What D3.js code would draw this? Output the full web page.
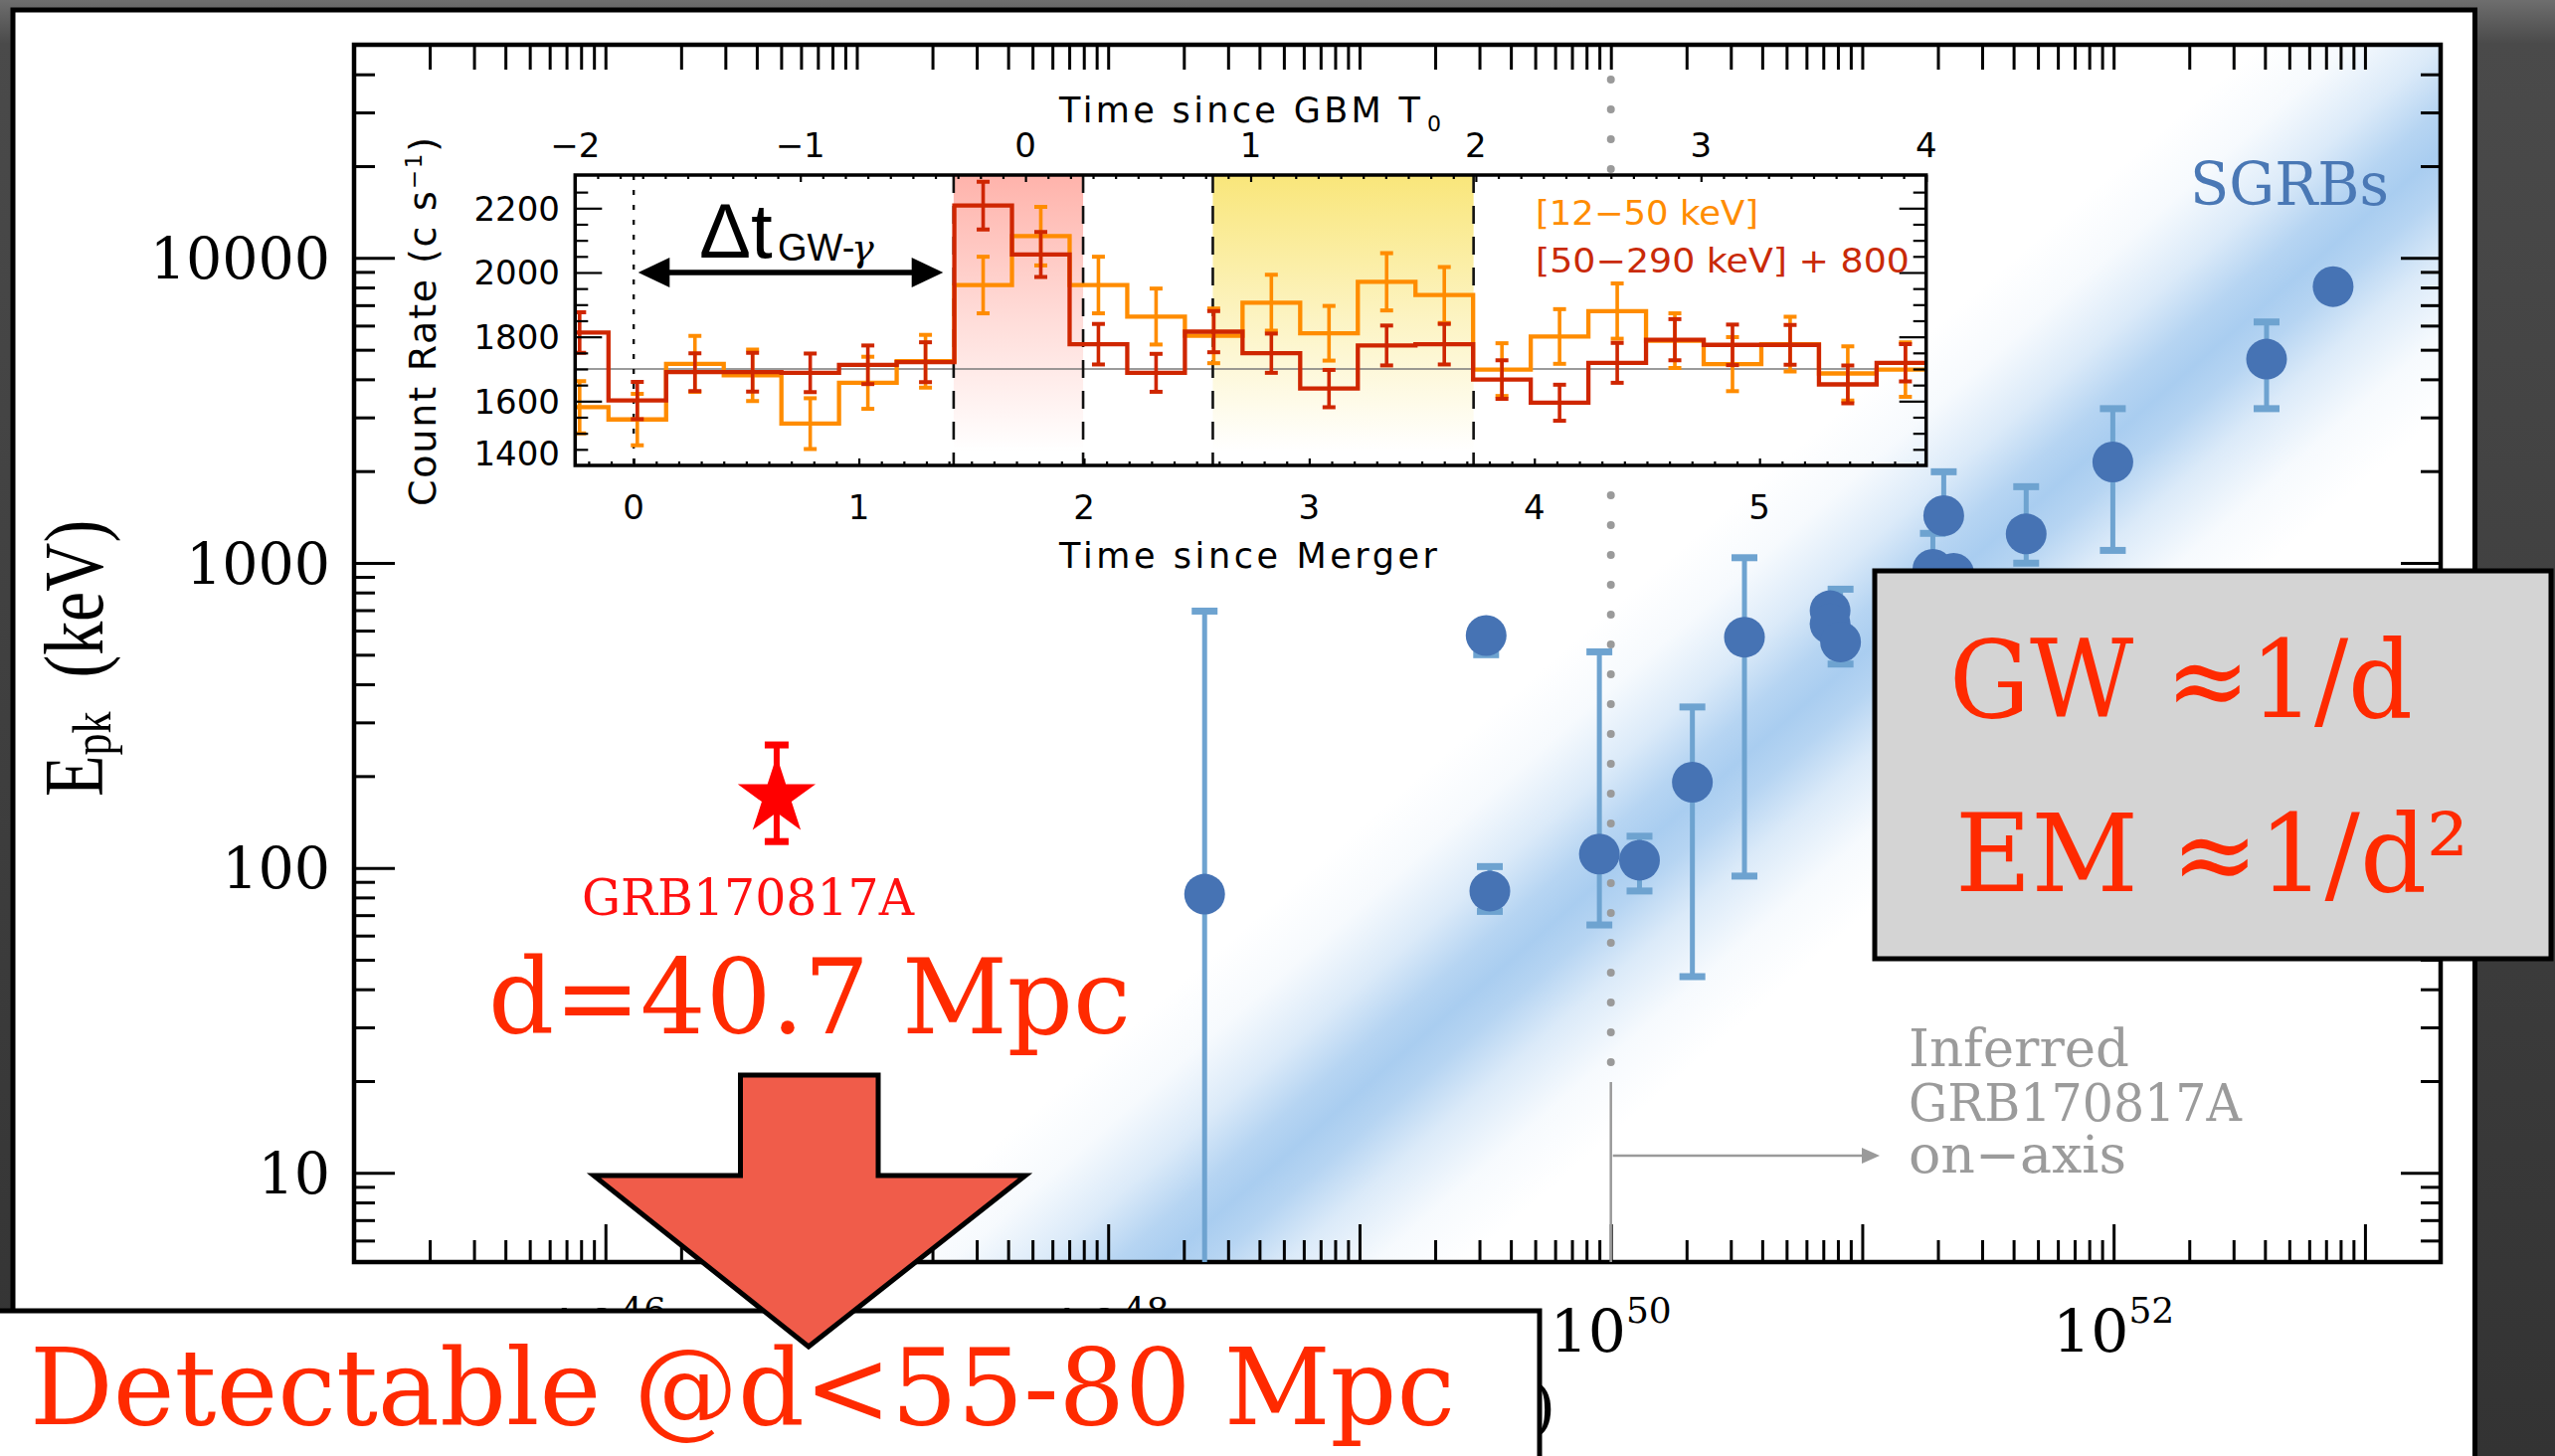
<!DOCTYPE html>
<html>
<head>
<meta charset="utf-8">
<script src="https://cdn.jsdelivr.net/npm/d3@7"></script>
<style>
  html, body { margin: 0; padding: 0; background: #363636; overflow: hidden; }
  svg { display: block; }
</style>
</head>
<body>
<script>
// ---- main panel: short GRB sample (Eiso in erg, Epk in keV) ----
const sgrbEiso  = [2.42e48, 3.19e49, 3.30e49, 9.0e49, 1.30e50, 2.11e50, 3.40e50, 7.45e50, 7.45e50, 8.2e50, 2.11e51, 1.91e51, 2.31e51, 4.49e51, 9.93e51, 4.06e52, 7.47e52]
const sgrbEpk   = [82, 578, 84, 111, 106, 191, 571, 697, 631, 551, 1429, 953, 925, 1245, 2143, 4657, 8054]
const sgrbEpkLo = [3, 500, 72, 65, 84, 44, 94, null, null, 466, null, null, null, 998, 1099, 3205, null]
const sgrbEpkHi = [695, null, 101, 511, 127, 337, 1040, null, null, 820, 1990, 1250, null, 1778, 3205, 6166, null]

// GRB170817A
const grbEiso = 4.8e46
const grbEpk = 171
const grbEpkLo = 122
const grbEpkHi = 253

// centre line of the shaded relation band (two anchor points)
const bandEiso = [3.15e48, 1.12e53]
const bandEpk = [8.1, 14750]

// ---- inset: GBM light curve, 0.256 s bins, time since GBM T0 ----
const binLeft = [-2.108, -1.852, -1.596, -1.34, -1.084, -0.828, -0.572, -0.316, -0.06, 0.196, 0.452, 0.708,
                 0.964, 1.22, 1.476, 1.732, 1.988, 2.244, 2.5, 2.756, 3.012, 3.268, 3.524, 3.78]
const binWidth = 0.256
const rateHard    = [1813, 1602, 1690, 1690, 1688, 1713, 1721, 2208, 2056, 1777, 1688, 1816, 1749, 1639, 1773, 1777, 1667, 1595, 1719, 1791, 1775, 1775, 1652, 1719]
const rateHardErr = [63, 58, 59, 60, 60, 60, 62, 74, 70, 63, 59, 64, 61, 58, 62, 63, 60, 56, 62, 64, 63, 62, 59, 58]
const rateSoft    = [1581, 1543, 1716, 1680, 1530, 1657, 1724, 1961, 2113, 1961, 1863, 1803, 1906, 1811, 1971, 1930, 1698, 1801, 1880, 1788, 1715, 1777, 1686, 1698]
const rateSoftErr = [81, 80, 87, 80, 79, 81, 82, 88, 91, 88, 87, 85, 87, 85, 89, 87, 82, 85, 86, 85, 84, 85, 84, 85]
const mergerOffset = 1.74
const pinkSpan = [-0.319, 0.256]
const yellowSpan = [0.832, 1.99]
const bkgLevel = 1700

const insetTopLabels = [-2, -1, 0, 1, 2, 3, 4]
const insetBottomLabels = [0, 1, 2, 3, 4, 5]
const insetYLabels = [1400, 1600, 1800, 2000, 2200]
const yLabels = [10, 100, 1000, 10000]
const xLabels = [46, 48, 50, 52]

const svg = d3.select('body').append('svg').attr('width', 2569).attr('height', 1464)
const defs = svg.append('defs')

function txt(parent, x, y, s, o = {}) {
  const t = parent.append('text').attr('x', x).attr('y', y).text(s)
    .attr('font-family', o.font || 'DejaVu Serif').attr('font-size', o.size || 40)
    .attr('fill', o.fill || '#000').attr('text-anchor', o.anchor || 'start')
  if (o.len) t.attr('textLength', o.len).attr('lengthAdjust', o.adjust || 'spacingAndGlyphs')
  return t
}

// ---- slide background + white panel ----
const bg = defs.append('linearGradient').attr('id', 'bgGrad').attr('x1', 0).attr('y1', 0).attr('x2', 0).attr('y2', 1)
bg.append('stop').attr('offset', 0).attr('stop-color', '#6e6e6e')
bg.append('stop').attr('offset', 0.03).attr('stop-color', '#4a4a4a')
bg.append('stop').attr('offset', 1).attr('stop-color', '#333')
svg.append('rect').attr('width', 2569).attr('height', 1464).attr('fill', 'url(#bgGrad)')
svg.append('rect').attr('x', 13).attr('y', 10).attr('width', 2475.5).attr('height', 1500)
  .attr('fill', '#fff').attr('stroke', '#000').attr('stroke-width', 5)

// ---- main scales ----
const x = d3.scaleLog().domain([1e45, 2e53]).range([356, 2454])
const y = d3.scaleLog().domain([5.1, 5e4]).range([1269, 45])
const [X0, X1] = x.range(), [Y1, Y0] = y.range()

defs.append('clipPath').attr('id', 'mainClip').append('rect')
  .attr('x', X0).attr('y', Y0).attr('width', X1 - X0).attr('height', Y1 - Y0)

// ---- blue band ----
const p0 = [x(bandEiso[0]), y(bandEpk[0])], p1 = [x(bandEiso[1]), y(bandEpk[1])]
const len = Math.hypot(p1[0] - p0[0], p1[1] - p0[1])
const ux = (p1[0] - p0[0]) / len, uy = (p1[1] - p0[1]) / len
const nx = -uy, ny = ux, hw = 200, ext = 900
const a = [p0[0] - ux * ext, p0[1] - uy * ext], b = [p1[0] + ux * ext, p1[1] + uy * ext]
const bandGrad = defs.append('linearGradient').attr('id', 'bandGrad').attr('gradientUnits', 'userSpaceOnUse')
  .attr('x1', p0[0] - nx * hw).attr('y1', p0[1] - ny * hw).attr('x2', p0[0] + nx * hw).attr('y2', p0[1] + ny * hw)
;[[0, 0], [0.15, 0.1], [0.3, 0.42], [0.42, 0.85], [0.5, 1], [0.58, 0.85], [0.7, 0.42], [0.85, 0.1], [1, 0]].forEach(([o, op]) =>
  bandGrad.append('stop').attr('offset', o).attr('stop-color', '#a9cdf0').attr('stop-opacity', op))
svg.append('g').attr('clip-path', 'url(#mainClip)').append('polygon')
  .attr('points', [[a[0] + nx * hw, a[1] + ny * hw], [b[0] + nx * hw, b[1] + ny * hw],
                   [b[0] - nx * hw, b[1] - ny * hw], [a[0] - nx * hw, a[1] - ny * hw]].join(' '))
  .attr('fill', 'url(#bandGrad)')

// ---- main axes ----
const isDecade = v => Math.abs(Math.log10(v) - Math.round(Math.log10(v))) < 1e-6
const xTicks = d3.range(45, 54).flatMap(e => d3.range(1, 10).map(k => k * 10 ** e)).filter(v => v >= 1e45 && v <= 2e53)
const yTicks = d3.range(0, 5).flatMap(e => d3.range(1, 10).map(k => k * 10 ** e)).filter(v => v > 5.1 && v < 4.99e4)

function ticks(axis, scale, vals, pos, attr, lenFn) {
  const g = svg.append('g').attr('transform', pos)
    .call(axis(scale).tickValues(vals).tickFormat('').tickSizeOuter(0))
  g.select('.domain').remove()
  g.selectAll('.tick line').attr('stroke', '#000').attr('stroke-width', 3).attr(attr, lenFn)
  return g
}
ticks(d3.axisBottom, x, xTicks, `translate(0,${Y1})`, 'y2', d => isDecade(d) ? -38 : -22)
ticks(d3.axisTop, x, xTicks, `translate(0,${Y0})`, 'y2', d => 25)
ticks(d3.axisLeft, y, yTicks, `translate(${X0},0)`, 'x2', d => isDecade(d) ? 41 : 21)
ticks(d3.axisRight, y, yTicks, `translate(${X1},0)`, 'x2', d => isDecade(d) ? -40 : -20)
svg.append('rect').attr('x', X0).attr('y', Y0).attr('width', X1 - X0).attr('height', Y1 - Y0)
  .attr('fill', 'none').attr('stroke', '#000').attr('stroke-width', 4.5)

yLabels.forEach(v => txt(svg, 332, y(v), String(v), { size: 57, anchor: 'end' }).attr('dy', '0.36em'))
xLabels.forEach(e => {
  const t = txt(svg, x(10 ** e), 1360, '', { size: 60, anchor: 'middle' })
  t.append('tspan').text('10')
  t.append('tspan').attr('font-size', 36).attr('dy', -30).text(e)
})
// partially hidden glyph behind the lower box
txt(svg, 1540, 1436, ')', { size: 62 })

const yt = svg.append('text').attr('transform', 'translate(103,662) rotate(-90) scale(1,1.25)')
  .attr('font-family', 'Liberation Serif').attr('font-size', 68).attr('text-anchor', 'middle')
yt.append('tspan').text('E')
yt.append('tspan').attr('font-size', 44).attr('dy', 6.5).text('pk')
yt.append('tspan').attr('dy', -6.5).text('\u2002(keV)')

// ---- on-axis annotation ----
const x50 = x(1e50)
const dotted = svg.append('g').attr('stroke', '#9a9a9a').attr('stroke-width', 8)
  .attr('stroke-linecap', 'round').attr('stroke-dasharray', '0,30')
dotted.append('line').attr('x1', x50).attr('x2', x50).attr('y1', 80).attr('y2', 172)
dotted.append('line').attr('x1', x50).attr('x2', x50).attr('y1', 498).attr('y2', 1080)
svg.append('line').attr('x1', x50).attr('x2', x50).attr('y1', 1088).attr('y2', Y1)
  .attr('stroke', '#9a9a9a').attr('stroke-width', 2.5)
svg.append('line').attr('x1', x50 + 2).attr('x2', 1876).attr('y1', 1162).attr('y2', 1162)
  .attr('stroke', '#9a9a9a').attr('stroke-width', 2.5)
svg.append('polygon').attr('points', '1872,1154 1890,1162 1872,1170').attr('fill', '#9a9a9a')
txt(svg, 1919, 1072, 'Inferred', { size: 52, fill: '#9b9b9b', len: 222 })
txt(svg, 1919, 1127, 'GRB170817A', { size: 52, fill: '#9b9b9b', len: 335 })
txt(svg, 1919, 1179, 'on\u2212axis', { size: 52, fill: '#9b9b9b', len: 219 })

// ---- inset light curve ----
const tx = d3.scaleLinear().domain([-2, 4]).range([578.3, 1936.7])
const mx = d3.scaleLinear().domain([-2 + mergerOffset, 4 + mergerOffset]).range(tx.range())
const cy = d3.scaleLinear().domain([1400, 2303]).range([468, 176])
const [IX0, IX1] = tx.range(), [IY1, IY0] = cy.range()
defs.append('clipPath').attr('id', 'insetClip').append('rect')
  .attr('x', IX0).attr('y', IY0).attr('width', IX1 - IX0).attr('height', IY1 - IY0)

function vGrad(id, color) {
  const g = defs.append('linearGradient').attr('id', id).attr('x1', 0).attr('y1', 0).attr('x2', 0).attr('y2', 1)
  g.append('stop').attr('offset', 0).attr('stop-color', color).attr('stop-opacity', 1)
  g.append('stop').attr('offset', 0.5).attr('stop-color', color).attr('stop-opacity', 0.45)
  g.append('stop').attr('offset', 0.95).attr('stop-color', color).attr('stop-opacity', 0)
}
vGrad('pinkGrad', '#ffb3ab')
vGrad('yellowGrad', '#f9e67a')
const inset = svg.append('g')
inset.append('rect').attr('x', tx(pinkSpan[0])).attr('width', tx(pinkSpan[1]) - tx(pinkSpan[0]))
  .attr('y', IY0).attr('height', IY1 - IY0).attr('fill', 'url(#pinkGrad)')
inset.append('rect').attr('x', tx(yellowSpan[0])).attr('width', tx(yellowSpan[1]) - tx(yellowSpan[0]))
  .attr('y', IY0).attr('height', IY1 - IY0).attr('fill', 'url(#yellowGrad)')
inset.append('line').attr('x1', IX0).attr('x2', IX1).attr('y1', cy(bkgLevel)).attr('y2', cy(bkgLevel))
  .attr('stroke', '#7a7a7a').attr('stroke-width', 1.3)
;[...pinkSpan, ...yellowSpan].forEach(t => inset.append('line')
  .attr('x1', tx(t)).attr('x2', tx(t)).attr('y1', IY0).attr('y2', IY1)
  .attr('stroke', '#111').attr('stroke-width', 2.6).attr('stroke-dasharray', '18,13'))
inset.append('line').attr('x1', mx(0)).attr('x2', mx(0)).attr('y1', IY0).attr('y2', IY1)
  .attr('stroke', '#111').attr('stroke-width', 2.4).attr('stroke-dasharray', '5,10')

const step = d3.line().curve(d3.curveStepAfter)
function series(vals, errs, color) {
  const g = inset.append('g').attr('clip-path', 'url(#insetClip)')
  const pts = binLeft.map((t, i) => [tx(t), cy(vals[i])])
  pts.push([tx(binLeft[binLeft.length - 1] + binWidth), cy(vals[vals.length - 1])])
  g.append('path').attr('d', step(pts)).attr('fill', 'none').attr('stroke', color).attr('stroke-width', 4.3)
  binLeft.forEach((t, i) => {
    const cx = tx(t + binWidth / 2), lo = cy(vals[i] - errs[i]), hi = cy(vals[i] + errs[i])
    g.append('line').attr('x1', cx).attr('x2', cx).attr('y1', lo).attr('y2', hi).attr('stroke', color).attr('stroke-width', 3.6)
    ;[lo, hi].forEach(yy => g.append('line').attr('x1', cx - 6.5).attr('x2', cx + 6.5).attr('y1', yy).attr('y2', yy)
      .attr('stroke', color).attr('stroke-width', 4))
  })
}
series(rateSoft, rateSoftErr, '#ff8c00')
series(rateHard, rateHardErr, '#cf2600')

// inset axes
const tTicks = d3.range(-20, 41).map(i => i / 10)
const mTicks = d3.range(-2, 58).map(i => i / 10)
const cTicks = d3.range(1450, 2251, 50)
const isInt = v => Math.abs(v - Math.round(v)) < 1e-6
function iticks(axis, scale, vals, pos, attr, lenFn) {
  const g = inset.append('g').attr('transform', pos)
    .call(axis(scale).tickValues(vals).tickFormat('').tickSizeOuter(0))
  g.select('.domain').remove()
  g.selectAll('.tick line').attr('stroke', '#000').attr('stroke-width', 2.2).attr(attr, lenFn)
}
iticks(d3.axisTop, tx, tTicks, `translate(0,${IY0})`, 'y2', d => isInt(d) ? 7 : 4)
iticks(d3.axisBottom, mx, mTicks, `translate(0,${IY1})`, 'y2', d => isInt(d) ? -7 : -4)
iticks(d3.axisLeft, cy, cTicks, `translate(${IX0},0)`, 'x2', d => d % 200 === 0 ? 27 : 13)
iticks(d3.axisRight, cy, cTicks, `translate(${IX1},0)`, 'x2', d => d % 200 === 0 ? -27 : -13)
inset.append('rect').attr('x', IX0).attr('y', IY0).attr('width', IX1 - IX0).attr('height', IY1 - IY0)
  .attr('fill', 'none').attr('stroke', '#000').attr('stroke-width', 3.5)

const fmt = v => v < 0 ? '\u2212' + Math.abs(v) : String(v)
insetTopLabels.forEach(v => txt(inset, tx(v), 158, fmt(v), { font: 'DejaVu Sans', size: 34, anchor: 'middle' }))
insetBottomLabels.forEach(v => txt(inset, mx(v), 522, fmt(v), { font: 'DejaVu Sans', size: 34, anchor: 'middle' }))
insetYLabels.forEach(v => txt(inset, 563, cy(v) + (v === 1400 ? -12 : 0), String(v),
  { font: 'DejaVu Sans', size: 34, anchor: 'end' }).attr('dy', '0.36em'))
txt(inset, 1065, 123, 'Time since GBM T', { font: 'DejaVu Sans', size: 35, len: 363, adjust: 'spacing' })
txt(inset, 1435, 132, '0', { font: 'DejaVu Sans', size: 22 })
txt(inset, 1065, 571, 'Time since Merger', { font: 'DejaVu Sans', size: 35, len: 380, adjust: 'spacing' })
const cr = inset.append('text').attr('transform', 'translate(438,323.5) rotate(-90)')
  .attr('font-family', 'DejaVu Sans').attr('font-size', 38).attr('text-anchor', 'middle')
  .attr('textLength', 371).attr('lengthAdjust', 'spacing')
cr.append('tspan').text('Count Rate (c s')
cr.append('tspan').attr('font-size', 23).attr('dy', -14).text('\u22121')
cr.append('tspan').attr('dy', 14).text(')')
txt(inset, 1544, 226, '[12\u221250 keV]', { font: 'DejaVu Sans', size: 34, fill: '#ff8c00', len: 224 })
txt(inset, 1544, 274, '[50\u2212290 keV] + 800', { font: 'DejaVu Sans', size: 34, fill: '#c92a08', len: 376 })

// delta-t double arrow
inset.append('line').attr('x1', 668).attr('x2', 922).attr('y1', 274).attr('y2', 274).attr('stroke', '#000').attr('stroke-width', 5.5)
inset.append('polygon').attr('points', '641.7,274 673.3,259 673.3,289').attr('fill', '#000')
inset.append('polygon').attr('points', '948.3,274 916.7,259 916.7,289').attr('fill', '#000')
txt(inset, 703, 259, '\u0394t', { font: 'Liberation Sans', size: 78 })
txt(inset, 782, 261.7, 'GW-', { font: 'Liberation Sans', size: 38 })
txt(inset, 856, 261.7, '\u03b3', { font: 'DejaVu Serif', size: 38 }).attr('font-style', 'italic')

// ---- SGRB points ----
const pts = svg.append('g').attr('clip-path', 'url(#mainClip)')
sgrbEiso.forEach((e, i) => {
  const cx = x(e), lo = sgrbEpkLo[i], hi = sgrbEpkHi[i]
  if (lo == null && hi == null) return
  const y1 = y(lo ?? sgrbEpk[i]), y2 = y(hi ?? sgrbEpk[i])
  pts.append('line').attr('x1', cx).attr('x2', cx).attr('y1', y1).attr('y2', y2).attr('stroke', '#6ea3d0').attr('stroke-width', 5)
  ;[lo, hi].filter(v => v != null).forEach(v => pts.append('line')
    .attr('x1', cx - 13).attr('x2', cx + 13).attr('y1', y(v)).attr('y2', y(v))
    .attr('stroke', '#6ea3d0').attr('stroke-width', 7))
})
pts.selectAll('circle').data(sgrbEiso).join('circle')
  .attr('cx', d => x(d)).attr('cy', (d, i) => y(sgrbEpk[i])).attr('r', 20.5).attr('fill', '#4673b4')

// GRB170817A star
const sx = x(grbEiso)
svg.append('line').attr('x1', sx).attr('x2', sx).attr('y1', y(grbEpkLo)).attr('y2', y(grbEpkHi)).attr('stroke', '#ff0000').attr('stroke-width', 6)
;[grbEpkLo, grbEpkHi].forEach(v => svg.append('line').attr('x1', sx - 12).attr('x2', sx + 12)
  .attr('y1', y(v)).attr('y2', y(v)).attr('stroke', '#ff0000').attr('stroke-width', 7))
svg.append('path').attr('d', d3.symbol(d3.symbolStar, 1900)())
  .attr('transform', `translate(${sx},${y(grbEpk)})`).attr('fill', '#ff0000')

txt(svg, 585, 920, 'GRB170817A', { size: 50, fill: '#ff1010', len: 334 })
txt(svg, 2202, 206, 'SGRBs', { size: 60, fill: '#4a78b5', len: 200 })
txt(svg, 491, 1039, 'd=40.7 Mpc', { size: 104, fill: '#ff2a00', len: 646 })

// ---- overlay boxes ----
svg.append('rect').attr('x', -10).attr('y', 1318).attr('width', 1558).attr('height', 200)
  .attr('fill', '#fff').attr('stroke', '#000').attr('stroke-width', 5)
txt(svg, 30, 1432, 'Detectable @d<55-80 Mpc', { size: 106, fill: '#ff2a00', len: 1433 })

svg.append('rect').attr('x', 1885).attr('y', 574).attr('width', 680).attr('height', 390)
  .attr('fill', '#d4d4d4').attr('stroke', '#000').attr('stroke-width', 5)
txt(svg, 1960, 721, 'GW \u22481/d', { size: 108, fill: '#ff2a00', len: 466 })
txt(svg, 1966, 896, 'EM \u22481/d\u00b2', { size: 108, fill: '#ff2a00', len: 516 })

// big red arrow
svg.append('polygon')
  .attr('points', '744.5,1081 883,1081 883,1182 1031,1182 813,1354 597,1182 744.5,1182')
  .attr('fill', '#f05c4a').attr('stroke', '#000').attr('stroke-width', 5).attr('stroke-linejoin', 'miter')
</script>
</body>
</html>
